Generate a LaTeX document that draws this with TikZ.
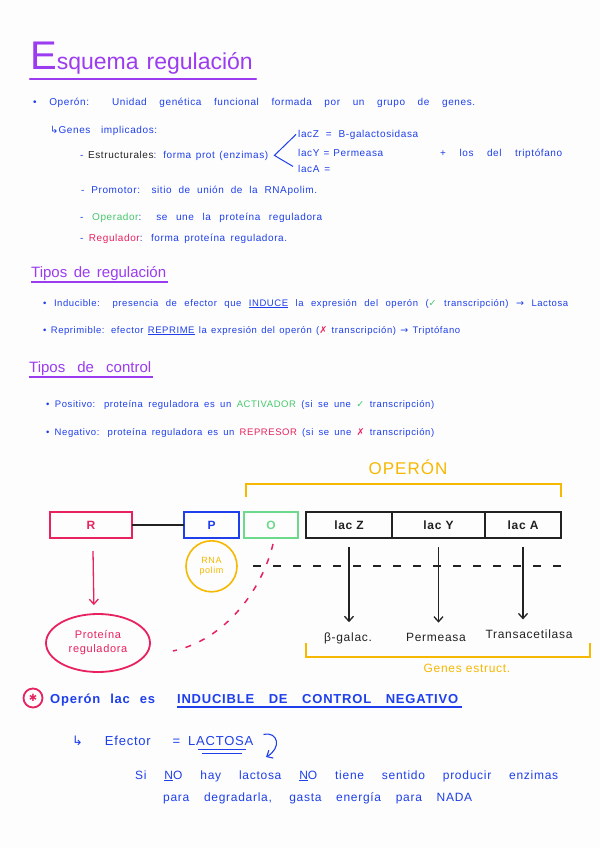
\documentclass[tikz,border=0pt]{standalone}
\usepackage{fontspec}
\setmainfont[LetterSpace=6]{Liberation Sans}
\newfontfamily\plainfont{Liberation Sans}
\newfontfamily\dejavu{DejaVu Sans}
\usepackage{xcolor}
\usepackage{tikz}
\usetikzlibrary{arrows.meta,positioning,shapes.geometric}
\definecolor{notepurple}{HTML}{9B3CF0}
\definecolor{noteblue}{HTML}{1E3FEA}
\definecolor{notered}{HTML}{E8215F}
\definecolor{notegreen}{HTML}{45C86C}
\definecolor{noteboxgreen}{HTML}{6CD98C}
\definecolor{noteyellow}{HTML}{F6B800}
\definecolor{noteink}{HTML}{222222}
\definecolor{notepaper}{HTML}{FDFDFD}
\newcommand{\spread}[2]{\makebox[#1][s]{#2}}
\newcommand{\yes}{{\dejavu\color{notegreen}✓}}
\newcommand{\nope}{{\dejavu\color{notered}✗}}
\newcommand{\goes}{{\dejavu →}}
\newcommand{\hook}{{\dejavu ↳}}

\begin{document}
\begin{tikzpicture}[x=1pt,y=-1pt,
  txt/.style={anchor=base west,inner sep=0pt,text=noteblue,font=\fontsize{10}{12}\selectfont},
  fine/.style={txt,font=\fontsize{9.5}{11}\selectfont},
  head/.style={anchor=base west,inner sep=0pt,text=notepurple,font=\plainfont\fontsize{15}{17}\selectfont},
  gene/.style={draw,line width=2.6pt,minimum height=26pt,inner sep=0pt,outer sep=0pt,font=\bfseries\fontsize{12}{14}\selectfont},
  lbl/.style={inner sep=1pt,font=\fontsize{12}{14}\selectfont},
  ar/.style={-{Straight Barb[length=5pt,width=9pt]},line width=1.3pt}]
  \fill[notepaper] (0,0) rectangle (600,848);
  \useasboundingbox (0,0) rectangle (600,848);
  % title
  \node[anchor=base west,inner sep=0pt,text=notepurple,font=\plainfont] (title) at (30,70) {{\fontsize{40}{40}\selectfont E}{\fontsize{23}{23}\selectfont squema\hspace{8pt}regulación}};
  \draw[notepurple,line width=2.5pt,line cap=round] ([yshift=-4pt]title.south west) -- ([xshift=3pt,yshift=-4pt]title.south east);
  % operon and its genes
  \node[txt] (opdef) at (33,106) {\spread{442pt}{• Operón: Unidad genética funcional formada por un grupo de genes.}};
  \node[txt] (implic) at (50,133) {\spread{107pt}{\hook Genes implicados:}};
  \node[txt] (estr) at (80,158) {\spread{188pt}{- {\color{noteink}Estructurales}: forma prot (enzimas)}};
  \node[txt] (lacz) at (298,137) {\spread{120pt}{lacZ = B-galactosidasa}};
  \node[txt] (lacy) at (298,156) {\spread{85pt}{lacY = Permeasa}};
  \node[txt] (laca) at (298,172) {\spread{32pt}{lacA =}};
  \node[txt] (tript) at (440,156) {\spread{122pt}{+ los del triptófano}};
  \draw[noteblue,line width=1pt] ([xshift=-2pt]lacz.west) -- ([xshift=6pt]estr.east) -- ([xshift=-5pt,yshift=2pt]laca.west);
  \node[txt] (prom) at (81,193) {\spread{236pt}{- Promotor: sitio de unión de la RNApolim.}};
  \node[txt] (oper) at (80,220) {\spread{242pt}{- {\color{notegreen}Operador}: se une la proteína reguladora}};
  \node[txt] (regu) at (80,241) {\spread{207pt}{- {\color{notered}Regulador}: forma proteína reguladora.}};
  % tipos de regulacion
  \node[head] (tiporeg) at (31,277) {\spread{135pt}{Tipos de regulación}};
  \draw[notepurple,line width=1.6pt] ([yshift=-1.5pt]tiporeg.south west) -- ([xshift=2pt,yshift=-1.5pt]tiporeg.south east);
  \node[fine] (induc) at (43,306) {\spread{525pt}{• Inducible: presencia de efector que \underline{INDUCE} la expresión del operón (\yes\ transcripción) \goes\ Lactosa}};
  \node[fine] (repri) at (43,333) {\spread{417pt}{• Reprimible: efector \underline{REPRIME} la expresión del operón (\nope\ transcripción) \goes\ Triptófano}};
  % tipos de control
  \node[head] (tipocon) at (29,372) {\spread{122pt}{Tipos de control}};
  \draw[notepurple,line width=1.6pt] ([yshift=-1.5pt]tipocon.south west) -- ([xshift=2pt,yshift=-1.5pt]tipocon.south east);
  \node[fine] (posit) at (46,407) {\spread{388pt}{• Positivo: proteína reguladora es un {\color{notegreen}ACTIVADOR} (si se une \yes\ transcripción)}};
  \node[fine] (negat) at (46,435) {\spread{388pt}{• Negativo: proteína reguladora es un {\color{notered}REPRESOR} (si se une \nope\ transcripción)}};
  % operon diagram
  \node[gene,draw=notered,text=notered,minimum width=82pt] (R) at (91,525) {R};
  \node[gene,draw=noteblue,text=noteblue,minimum width=55pt,right=52pt of R] (P) {P};
  \node[gene,draw=noteboxgreen,text=noteboxgreen,minimum width=54pt,right=5pt of P] (O) {O};
  \node[gene,draw=noteink,text=noteink,minimum width=86pt,right=8pt of O] (lacZ) {lac Z};
  \node[gene,draw=noteink,text=noteink,minimum width=93pt,right=0pt of lacZ] (lacY) {lac Y};
  \node[gene,draw=noteink,text=noteink,minimum width=76pt,right=0pt of lacY] (lacA) {lac A};
  \draw[noteink,line width=1.4pt] (R) -- (P);
  \node[circle,draw=noteyellow,line width=1.6pt,minimum size=51pt,inner sep=0pt,align=center,text=noteyellow,font=\fontsize{9}{10.5}\selectfont,below=2pt of P] (rna) {RNA\\polim};
  \draw[noteyellow,line width=1.6pt] (246,497) |- (561,484) -- (561,497);
  \node[text=noteyellow,font=\fontsize{17}{19}\selectfont] (operon) at (408,467) {OPERÓN};
  \draw[noteink,line width=1.8pt,dash pattern=on 8pt off 12pt] (253,566) -- (572,566);
  \node[lbl,text=noteink] (bgal) at (348,638) {β-galac.};
  \node[lbl,text=noteink] (perm) at (436,637) {Permeasa};
  \node[lbl,text=noteink] (tacet) at (529,634) {Transacetilasa};
  \draw[ar,noteink,shorten >=9pt] ([yshift=-9pt]lacZ.south) -- (lacZ.south |- bgal.north);
  \draw[ar,noteink,shorten >=9pt] ([yshift=-9pt]lacY.south) -- (lacY.south |- perm.north);
  \draw[ar,noteink,shorten >=9pt] ([yshift=-9pt]lacA.south) -- (lacA.south |- tacet.north);
  \draw[noteyellow,line width=1.6pt] (306,643) |- (590,657) -- (590,643);
  \node[lbl,text=noteyellow] (genest) at (467,668) {Genes estruct.};
  \node[ellipse,draw=notered,line width=1.8pt,minimum width=104pt,minimum height=58pt,inner sep=0pt,align=center,text=notered,font=\fontsize{11}{14}\selectfont] (prot) at (98,643) {Proteína\\reguladora};
  \draw[ar,notered,shorten >=8pt] ([xshift=2pt,yshift=-13pt]R.south) -- ([xshift=-4pt]prot.north);
  \draw[notered,line width=1.5pt,dash pattern=on 6pt off 9pt] ([xshift=2pt,yshift=-6pt]O.south) .. controls (262,590) and (225,640) .. ([xshift=22pt,yshift=-8pt]prot.east);
  % lac operon summary
  \node[circle,draw=notered,line width=1.8pt,minimum size=19pt,inner sep=0pt,text=notered,font=\fontsize{10}{10}\selectfont] (mark) at (33,698) {\dejavu ✱};
  \node[txt,font=\bfseries\fontsize{13}{15}\selectfont] (lacop) at (50,703) {\spread{105pt}{Operón lac es}};
  \node[txt,font=\bfseries\fontsize{13}{15}\selectfont] (indneg) at (177,703) {\spread{281pt}{INDUCIBLE DE CONTROL NEGATIVO}};
  \draw[noteblue,line width=2pt] ([yshift=-4pt]indneg.south west) -- ([xshift=4pt,yshift=-4pt]indneg.south east);
  \node[txt,font=\fontsize{13}{15}\selectfont] (efe) at (72,745) {\spread{108pt}{\hook\ Efector =}};
  \node[txt,font=\fontsize{13}{15}\selectfont] (lact) at (188,745) {LACTOSA};
  \draw[noteblue,line width=1.2pt] ([xshift=10pt,yshift=-4pt]lact.south west) -- ([xshift=-8pt,yshift=-4pt]lact.south east);
  \draw[noteblue,line width=1.2pt] ([xshift=14pt,yshift=-8pt]lact.south west) -- ([xshift=-12pt,yshift=-8pt]lact.south east);
  \coordinate (turn) at (266,757);
  \draw[ar,noteblue,line width=1.1pt] ([xshift=10pt,yshift=6pt]lact.east) .. controls (278,731) and (282,748) .. (turn);
  \node[txt,font=\fontsize{12}{14}\selectfont] (sino) at (135,779) {\spread{423pt}{Si \underline{N}O hay lactosa \underline{N}O tiene sentido producir enzimas}};
  \node[txt,font=\fontsize{12}{14}\selectfont] (gasta) at (163,801) {\spread{309pt}{para degradarla, gasta energía para NADA}};
\end{tikzpicture}
\end{document}
